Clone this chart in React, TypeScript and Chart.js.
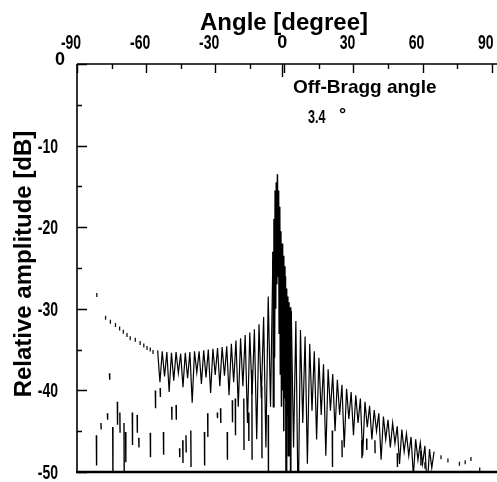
import React, { useEffect, useRef } from "react";
import { Chart, registerables } from "chart.js";

Chart.register(...registerables);

// ---- axis ticks and labels ----
const xMajorTicks = [-90, -60, -30, 0, 30, 60, 90];
const xMinorTicks = [-75, -45, -15, 15, 45, 75];
const yMajorTicks = [0, -10, -20, -30, -40, -50];
const yMinorTicks = [-5, -15, -25, -35, -45];
const braggMarkerAngle = -1.2;
const xTitle = "Angle [degree]";
const yTitle = "Relative amplitude [dB]";

// ---- trace left of the main lobe (angle -55 .. -5, step 1) ----
const leftTraceStart = -55;
const leftTraceStep = 1;
const leftTraceValues = [
  -35.1, -39.0, -35.2, -38.3, -35.3, -40.2, -35.4, -38.8, -35.3, -37.9,
  -35.5, -39.6, -35.4, -38.5, -35.3, -41.5, -35.2, -37.8, -35.2, -39.2,
  -35.1, -38.4, -35.0, -40.3, -34.9, -38.1, -34.8, -39.5, -34.7, -38.2,
  -34.6, -40.6, -34.3, -39.0, -33.9, -42.0, -33.6, -39.5, -33.2, -44.0,
  -32.9, -40.5, -32.5, -46.0, -31.9, -41.0, -31.0, -47.0, -28.5, -42.0,
  -24.0,
];

// ---- main lobe (angle -5 .. 3, step 0.25) ----
const peakTraceStart = -5;
const peakTraceStep = 0.25;
const peakTraceValues = [
  -23, -42, -19, -36, -15.5, -30, -14.5, -27, -13.5, -26,
  -15.5, -33, -17.5, -38, -20.5, -42, -22, -40, -23.5, -45,
  -24.8, -41, -26, -55, -27.5, -43, -28.5, -48, -29.2, -42,
  -29.8, -55, -30.3,
];

// ---- trace right of the main lobe (angle 3 .. 65, step 1) ----
const rightTraceStart = 3;
const rightTraceStep = 1;
const rightTraceValues = [
  -30.3, -47, -31.5, -55, -32.6, -44, -33.4, -49, -34.3, -42.5,
  -35.2, -46, -36.0, -43, -36.8, -48, -37.4, -42.5, -38.0, -45,
  -38.7, -43, -39.3, -47, -39.8, -43.5, -40.2, -45.5, -40.6, -44,
  -41.0, -48, -41.4, -44.5, -41.9, -46, -42.4, -45, -42.8, -48.5,
  -43.2, -46, -43.6, -47, -44.0, -46.5, -44.4, -49, -44.8, -47.5,
  -45.3, -48, -45.7, -50.5, -46.0, -48.5, -46.4, -49, -46.8, -52,
  -47.2, -49.5, -47.5,
];

// ---- isolated deep strokes (angle, top dB, bottom dB) ----
const lowStrokeAngles = [
  -81.6, -79.6, -76.8, -75.9, -74.5, -72.5, -71.4, -69.6, -68.9, -66.0,
  -63.9, -63.2, -58.2, -56.0, -53.9, -52.5, -48.9, -47.0, -45.5, -44.1,
  -42.7, -40.6, -34.7, -33.3, -29.1, -27.7, -24.8, -22.6, -21.3, -17.6,
  -15.5, -14.1, -9.8, -7.0, 20.8, 25.0, 33.6, 35.7, 39.3, 49.0, 59.2, 61.0,
];
const lowStrokeTops = [
  -45.5, -44.0, -42.8, -37.9, -44.5, -41.4, -42.7, -44.0, -45.1, -42.7,
  -43.0, -45.8, -45.2, -40.0, -39.7, -45.1, -42.0, -41.8, -47.1, -46.1,
  -45.5, -44.9, -45.1, -42.8, -42.7, -42.2, -45.1, -41.2, -41.0, -41.0,
  -42.7, -37.5, -39.5, -43.0, -44.9, -46.1, -46.1, -45.9, -46.1, -47.7, -47.4, -48.8,
];
const lowStrokeBottoms = [
  -49.2, -44.8, -43.6, -38.7, -50.5, -44.2, -45.2, -50.5, -48.8, -46.7,
  -45.2, -47.0, -48.2, -42.2, -40.8, -47.9, -43.6, -43.6, -48.2, -48.9,
  -47.6, -49.4, -49.2, -45.7, -43.4, -44.0, -48.5, -43.9, -45.5, -47.3,
  -46.2, -48.5, -48.3, -50.5, -49.4, -48.2, -48.3, -47.3, -47.7, -49.4, -49.2, -49.6,
];

// ---- faint sparse samples of the trace ----
const sparseAngles = [
  -81.4, -77.6, -75.5, -73.3, -71.5, -69.9, -68.3, -66.9, -64.7, -62.6,
  -61.0, -59.6, -58.2, -57.0, 68.0, 71.0, 76.0, 78.5, 81.0, 84.8,
];
const sparseValues = [
  -28.3, -31.1, -31.6, -32.0, -32.4, -32.8, -33.2, -33.6, -33.8, -34.2,
  -34.5, -34.8, -35.0, -35.3, -48.2, -48.6, -49.0, -48.8, -48.4, -49.7,
];

const annotationTitle = "Off-Bragg angle";
const annotationValue = "3.4";
const annotationUnit = "°";

const boldFamily = "'Liberation Sans', Arial, Helvetica, sans-serif";
const narrowScale = 0.7;

function tracePoints(start: number, step: number, values: number[]) {
  return values.map((v, i) => ({ x: start + i * step, y: v }));
}

function narrowText(ctx: any, text: string, x: number, y: number, align: string, size: number) {
  ctx.save();
  ctx.translate(x, y);
  ctx.scale(narrowScale, 1);
  ctx.font = `bold ${size}px ${boldFamily}`;
  ctx.textAlign = align;
  ctx.textBaseline = "alphabetic";
  ctx.fillText(text, 0, 0);
  ctx.restore();
}

const axesPlugin = {
  id: "inwardAxes",
  afterDraw(chart: any) {
    const { ctx, chartArea, scales } = chart;
    const xs = scales.x;
    const ys = scales.y;
    const { left, top, bottom } = chartArea;
    const right = chart.width;
    ctx.save();
    ctx.strokeStyle = "#000";
    ctx.fillStyle = "#000";
    ctx.lineCap = "butt";
    // axis lines
    ctx.lineWidth = 1.6;
    ctx.beginPath();
    ctx.moveTo(left, top);
    ctx.lineTo(right, top);
    ctx.moveTo(left, top);
    ctx.lineTo(left, bottom);
    ctx.stroke();
    ctx.lineWidth = 2.4;
    ctx.beginPath();
    ctx.moveTo(left - 1, bottom);
    ctx.lineTo(right, bottom);
    ctx.stroke();
    // top ticks
    ctx.lineWidth = 1.4;
    ctx.beginPath();
    xMajorTicks.forEach((v) => {
      const px = Math.round(xs.getPixelForValue(v)) + 0.5;
      ctx.moveTo(px, top);
      ctx.lineTo(px, top + 9);
    });
    xMinorTicks.forEach((v) => {
      const px = Math.round(xs.getPixelForValue(v)) + 0.5;
      ctx.moveTo(px, top);
      ctx.lineTo(px, top + 5);
    });
    const bm = Math.round(xs.getPixelForValue(braggMarkerAngle)) + 0.5;
    ctx.moveTo(bm, top);
    ctx.lineTo(bm, top + 13);
    // left ticks
    yMajorTicks.forEach((v) => {
      const py = Math.round(ys.getPixelForValue(v)) + 0.5;
      ctx.moveTo(left, py);
      ctx.lineTo(left + 10, py);
    });
    yMinorTicks.forEach((v) => {
      const py = Math.round(ys.getPixelForValue(v)) + 0.5;
      ctx.moveTo(left, py);
      ctx.lineTo(left + 5, py);
    });
    ctx.stroke();

    // tick labels
    xMajorTicks.forEach((v) => {
      const px = xs.getPixelForValue(v);
      if (v === 0) {
        ctx.font = `bold 18px ${boldFamily}`;
        ctx.textAlign = "center";
        ctx.textBaseline = "alphabetic";
        ctx.fillText(String(v), px - 2, 48);
      } else {
        narrowText(ctx, String(v), px - 6, 49, "center", 20);
      }
    });
    yMajorTicks.forEach((v) => {
      const py = ys.getPixelForValue(v);
      if (v === 0) {
        ctx.font = `bold 18px ${boldFamily}`;
        ctx.textAlign = "right";
        ctx.textBaseline = "alphabetic";
        ctx.fillText(String(v), 65, 65);
      } else {
        narrowText(ctx, String(v), 58, py + 7, "right", 20);
      }
    });

    // axis titles
    ctx.font = `bold 24px ${boldFamily}`;
    ctx.textAlign = "center";
    ctx.textBaseline = "alphabetic";
    ctx.fillText(xTitle, 284, 30);
    ctx.save();
    ctx.translate(31, 264);
    ctx.rotate(-Math.PI / 2);
    ctx.fillText(yTitle, 0, 0);
    ctx.restore();

    // annotation
    ctx.textAlign = "left";
    ctx.font = `bold 19px ${boldFamily}`;
    ctx.fillText(annotationTitle, 293, 93);
    narrowText(ctx, annotationValue, 308, 123, "left", 18);
    ctx.font = `bold 18px ${boldFamily}`;
    ctx.fillText(annotationUnit, 339, 120);
    ctx.restore();
  },
};

export default function App() {
  const canvasRef = useRef<HTMLCanvasElement | null>(null);

  useEffect(() => {
    if (!canvasRef.current) return;
    const strokePts: any[] = [];
    lowStrokeAngles.forEach((a, i) => {
      strokePts.push({ x: a, y: lowStrokeTops[i] });
      strokePts.push({ x: a + 0.1, y: lowStrokeBottoms[i] });
      strokePts.push({ x: a + 0.1, y: null });
    });
    const sparsePts = sparseAngles.map((a, i) => ({ x: a, y: sparseValues[i] }));

    const lineBase = {
      borderColor: "#000",
      pointRadius: 0,
      fill: false,
      tension: 0,
      spanGaps: false,
    };

    const chart = new Chart(canvasRef.current, {
      type: "line",
      data: {
        datasets: [
          { ...lineBase, label: "left", data: tracePoints(leftTraceStart, leftTraceStep, leftTraceValues), borderWidth: 1.2 },
          { ...lineBase, label: "peak", data: tracePoints(peakTraceStart, peakTraceStep, peakTraceValues), borderWidth: 1.5 },
          { ...lineBase, label: "right", data: tracePoints(rightTraceStart, rightTraceStep, rightTraceValues), borderWidth: 1.2 },
          { ...lineBase, label: "low", data: strokePts, borderWidth: 1.4 },
          {
            label: "sparse",
            data: sparsePts,
            showLine: false,
            pointStyle: "line",
            rotation: 90,
            pointRadius: 2,
            borderWidth: 1.3,
            borderColor: "#111",
            backgroundColor: "#111",
          } as any,
        ],
      },
      options: {
        animation: false,
        responsive: false,
        devicePixelRatio: 1,
        layout: { padding: { top: 0, left: 0, right: -2, bottom: 10 } },
        plugins: { legend: { display: false }, tooltip: { enabled: false } },
        events: [],
        scales: {
          x: {
            type: "linear",
            position: "top",
            min: -90,
            max: 90,
            afterFit: (s: any) => {
              s.height = 64;
            },
            grid: { display: false, drawTicks: false },
            border: { display: false },
            ticks: { display: false, stepSize: 30 },
            title: { display: false },
          },
          y: {
            type: "linear",
            min: -50,
            max: 0,
            afterFit: (s: any) => {
              s.width = 77;
            },
            grid: { display: false, drawTicks: false },
            border: { display: false },
            ticks: { display: false, stepSize: 10 },
            title: { display: false },
          },
        },
      } as any,
      plugins: [axesPlugin],
    });
    return () => chart.destroy();
  }, []);

  return (
    <div style={{ position: "fixed", left: 0, top: 0, width: 497, height: 482, background: "#fff" }}>
      <canvas ref={canvasRef} width={497} height={482} style={{ display: "block" }} />
    </div>
  );
}
